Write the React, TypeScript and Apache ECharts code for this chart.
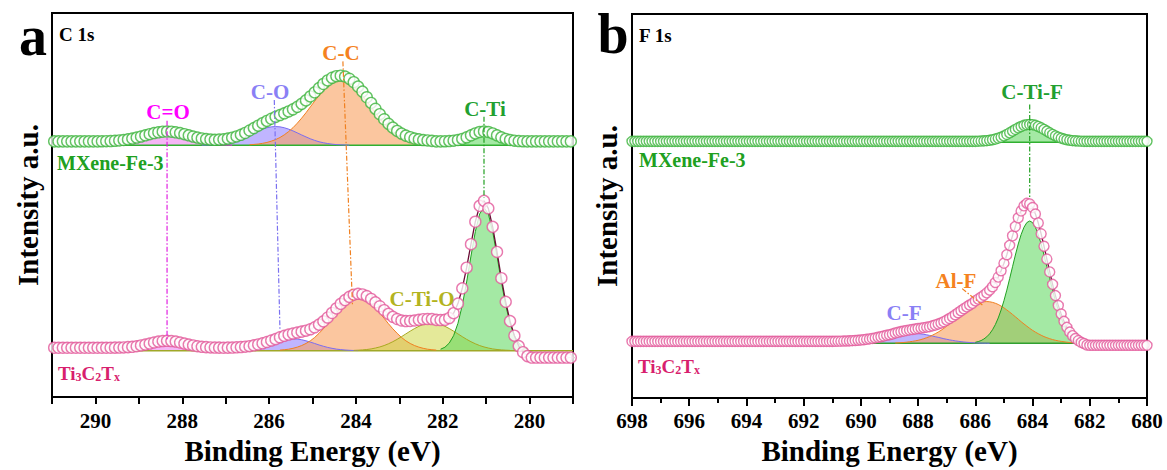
import React, { useEffect, useRef } from 'react';
import * as echarts from 'echarts';

// ---------------- DATA ----------------
// Energy grids (eV), measurement step
const E_STEP = 0.1;
const A_E_START = 290.95; // C 1s spectra start (descending)
const B_E_START = 698.0; // F 1s spectra start (descending)

// Axis ranges and tick labels
const A_MIN = 279, A_MAX = 291;
const B_MIN = 680, B_MAX = 698;

// Vertical offsets of the stacked spectra (a.u.)
const A_UP_BASE = 255, A_LOW_BASE = 47;
const B_UP_BASE = 257, B_LOW_BASE = 55;

// C 1s, MXene-Fe-3 raw data (intensity above its baseline, a.u.)
const A_UP_ENV = [
  4, 4, 4, 4, 4, 4, 4, 4, 4, 4, 4,
  4.1, 4.2, 4.3, 4.6, 4.9, 5.4, 6.0, 6.8, 7.8, 8.9,
  10.1, 11.3, 12.4, 13.2, 13.8, 14, 13.8, 13.2, 12.4, 11.3,
  10.1, 8.9, 7.8, 7.0, 6.3, 5.9, 5.6, 5.8, 6.1, 6.8,
  7.7, 9.0, 10.6, 12.5, 15.0, 17.5, 19.9, 22.4, 24.7, 26.9,
  28.8, 30.6, 32.4, 34.3, 36.4, 39.0, 42.0, 45.5, 49.5, 53.7,
  58.0, 62.1, 65.7, 68.4, 70.0, 70.5, 69.6, 67.4, 63.9, 59.5,
  54.4, 48.7, 42.9, 37.0, 31.5, 26.4, 21.8, 17.9, 14.6, 11.9,
  9.8, 8.2, 6.9, 6.0, 5.3, 4.9, 4.5, 4, 4, 4.1,
  4.3, 4.7, 5.4, 6.5, 8.1, 10.1, 12.0, 13.5, 14, 13.5,
  12.0, 10.1, 8.1, 6.5, 5.4, 4.7, 4.3, 4.1,
  4, 4, 4, 4, 4, 4, 4, 4, 4, 4, 4, 4,
];
// C 1s, MXene-Fe-3 fitted components
const A_UP_CDO_START = 289.85;
const A_UP_CDO = [0.1, 0.2, 0.3, 0.6, 0.9, 1.4, 2.0, 2.8, 3.8, 4.9, 6.1, 7.3, 8.4, 9.2, 9.8, 10, 9.8, 9.2, 8.4, 7.3, 6.1, 4.9, 3.8, 2.8, 2.0, 1.4, 0.9, 0.6, 0.3, 0.2, 0.1];
const A_UP_CO_START = 287.55;
const A_UP_CO = [0.2, 0.3, 0.5, 0.7, 1.2, 1.8, 2.6, 3.6, 5.0, 6.6, 8.5, 10.5, 12.6, 14.6, 16.4, 17.8, 18.7, 19, 18.7, 17.8, 16.4, 14.6, 12.6, 10.5, 8.5, 6.6, 5.0, 3.6, 2.6, 1.8, 1.2, 0.7, 0.5, 0.3, 0.2];
const A_UP_CC_START = 286.45;
const A_UP_CC = [0.5, 0.9, 1.3, 2.0, 2.9, 4.2, 5.8, 7.9, 10.6, 13.9, 17.8, 22.4, 27.5, 33.0, 38.9, 44.7, 50.4, 55.5, 59.9, 63.2, 65.3, 66, 65.3, 63.2, 59.9, 55.5, 50.4, 44.7, 38.9, 33.0, 27.5, 22.4, 17.8, 13.9, 10.6, 7.9, 5.8, 4.2, 2.9, 2.0, 1.3, 0.9, 0.5];
const A_UP_CTI_START = 281.95;
const A_UP_CTI = [0.1, 0.3, 0.7, 1.4, 2.5, 4.1, 6.1, 8.0, 9.5, 10, 9.5, 8.0, 6.1, 4.1, 2.5, 1.4, 0.7, 0.3, 0.1];

// C 1s, Ti3C2Tx raw data
const A_LOW_ENV = [
  3, 3, 3, 3, 3, 3, 3, 3, 3, 3, 3, 3, 3, 3,
  3.1, 3.2, 3.3, 3.6, 3.9, 4.5, 5.3, 6.2, 7.2, 8.3,
  9.2, 9.8, 10, 9.8, 9.2, 8.3, 7.2, 6.2, 5.3, 4.5,
  3.9, 3.6, 3.3, 3.2, 3.1, 3,
  3.1, 3.2, 3.4, 3.7,
  4.1, 4.6, 5.4, 6.3, 7.5, 8.8, 10.3, 11.7, 13.6, 15.1,
  16.3, 17.4, 18.4, 19.3, 20.3, 21.7, 23.7, 26.4, 29.7, 33.6,
  38.2, 42.8, 47.4, 51.3, 54.5, 56.7, 57.6, 57.0, 55.3, 52.4,
  49.0, 45.0, 41.0, 37.3, 34.3, 32.1, 30.6, 30.0, 30.1, 30.6,
  31.3, 31.9, 32.1, 32.0, 31.2, 31.0, 31.2, 33.1, 38.0, 47.7,
  63.2, 84.1, 107.9, 130.6, 146.7, 151.8, 144.2, 125.4, 100.0, 73.4,
  49.5, 30.0, 15.2, 4.7, -1.5, -5.5,
  -7, -7, -7, -7, -7, -7, -7, -7, -7, -7, -7,
];
// C 1s, Ti3C2Tx fitted components
const A_LOW_CDO_START = 289.55;
const A_LOW_CDO = [0.1, 0.2, 0.3, 0.6, 0.9, 1.5, 2.3, 3.2, 4.2, 5.3, 6.2, 6.8, 7, 6.8, 6.2, 5.3, 4.2, 3.2, 2.3, 1.5, 0.9, 0.6, 0.3, 0.2, 0.1];
const A_LOW_CO_START = 286.95;
const A_LOW_CO = [0.1, 0.2, 0.4, 0.7, 1.1, 1.6, 2.4, 3.3, 4.5, 5.8, 7.3, 8.7, 10.0, 11.1, 11.8, 12, 11.8, 11.1, 10.0, 8.7, 7.3, 5.8, 4.5, 3.3, 2.4, 1.6, 1.1, 0.7, 0.4, 0.2, 0.1];
const A_LOW_CC_START = 285.75;
const A_LOW_CC = [0.6, 1.0, 1.5, 2.4, 3.6, 5.2, 7.3, 10.0, 13.4, 17.6, 22.2, 27.3, 32.8, 38.2, 43.3, 47.6, 51.1, 53.2, 54, 53.2, 51.1, 47.6, 43.3, 38.2, 32.8, 27.3, 22.2, 17.6, 13.4, 10.0, 7.3, 5.2, 3.6, 2.4, 1.5, 1.0, 0.6];
const A_LOW_CTIO_START = 284.05;
const A_LOW_CTIO = [0.3, 0.5, 0.8, 1.2, 1.8, 2.7, 3.8, 5.2, 7.0, 9.1, 11.5, 14.2, 17.0, 19.8, 22.4, 24.7, 26.5, 27.6, 28, 27.6, 26.5, 24.7, 22.4, 19.8, 17.0, 14.2, 11.5, 9.1, 7.0, 5.2, 3.8, 2.7, 1.8, 1.2, 0.8, 0.5, 0.3];
const A_LOW_CTI_START = 282.05;
const A_LOW_CTI = [1.5, 3.5, 7.7, 15.2, 27.7, 46.0, 69.6, 95.8, 120.6, 138.5, 145, 138.5, 120.6, 95.8, 69.6, 46.0, 27.7, 15.2, 7.7, 3.5, 1.5];

// F 1s, MXene-Fe-3 raw data
const B_UP_ENV = [
  1, 1, 1, 1, 1, 1, 1, 1, 1, 1, 1, 1, 1, 1, 1, 1, 1, 1, 1, 1,
  1, 1, 1, 1, 1, 1, 1, 1, 1, 1, 1, 1, 1, 1, 1, 1, 1, 1, 1, 1,
  1, 1, 1, 1, 1, 1, 1, 1, 1, 1, 1, 1, 1, 1, 1, 1, 1, 1, 1, 1,
  1, 1, 1, 1, 1, 1, 1, 1, 1, 1, 1, 1, 1, 1, 1, 1, 1, 1, 1, 1,
  1, 1, 1, 1, 1, 1, 1, 1, 1, 1, 1, 1, 1, 1, 1, 1, 1, 1, 1, 1,
  1, 1, 1, 1, 1, 1, 1, 1, 1, 1, 1, 1, 1, 1, 1, 1, 1, 1, 1, 1,
  1,
  1.2, 1.3, 1.5, 1.7, 2.1, 2.6, 3.3, 4.2, 5.2, 6.5,
  8.0, 9.6, 11.3, 13.0, 14.6, 16.0, 17.1, 17.8, 18, 17.8,
  17.1, 16.0, 14.6, 13.0, 11.3, 9.6, 8.0, 6.5, 5.2, 4.2,
  3.3, 2.6, 2.1, 1.7, 1.5, 1.3, 1.2,
  1, 1, 1, 1, 1, 1, 1, 1, 1, 1, 1, 1, 1, 1, 1, 1, 1, 1, 1, 1, 1, 1, 1,
];
const B_UP_CTIF_START = 685.9;
const B_UP_CTIF = [0.2, 0.3, 0.5, 0.7, 1.1, 1.6, 2.3, 3.2, 4.2, 5.5, 7.0, 8.6, 10.3, 12.0, 13.6, 15.0, 16.1, 16.8, 17, 16.8, 16.1, 15.0, 13.6, 12.0, 10.3, 8.6, 7.0, 5.5, 4.2, 3.2, 2.3, 1.6, 1.1, 0.7, 0.5, 0.3, 0.2];

// F 1s, Ti3C2Tx raw data
const B_LOW_ENV = [
  2, 2, 2, 2, 2, 2, 2, 2, 2, 2, 2, 2, 2, 2, 2, 2, 2, 2, 2, 2,
  2, 2, 2, 2, 2, 2, 2, 2, 2, 2, 2, 2, 2, 2, 2, 2, 2, 2, 2, 2,
  2, 2, 2, 2, 2, 2, 2, 2, 2, 2, 2, 2, 2, 2, 2, 2, 2, 2, 2, 2,
  2, 2, 2, 2, 2, 2, 2, 2, 2, 2, 2,
  2.1, 2.2, 2.2, 2.3, 2.4, 2.5, 2.7, 2.9, 3.1, 3.4,
  3.7, 4.1, 4.5, 5.0, 5.5, 6.1, 6.7, 7.4, 8.1, 8.7,
  9.4, 10.4, 11.1, 11.8, 12.4, 13.0, 13.5, 14.0, 14.4, 14.9,
  15.3, 15.8, 16.3, 16.8, 17.6, 18.4, 19.4, 20.5, 21.8, 23.4,
  25.0, 26.8, 28.8, 30.8, 32.8, 34.8, 36.7, 38.6, 40.2, 42.7,
  44.5, 46.3, 48.4, 50.8, 53.5, 56.9, 61.2, 66.6, 73.0, 80.6,
  89.1, 98.5, 108.1, 117.5, 126.2, 133.1, 138.2, 140.7, 140.1, 136.5,
  130.0, 121.0, 110.1, 97.6, 84.7, 71.8, 59.3, 48.0, 38.0, 29.5,
  22.1, 16.1, 11.3, 7.7, 4.9, 2.8, 1.0, -0.1, -1.6,
  -2, -2, -2, -2, -2, -2, -2, -2, -2, -2, -2, -2, -2, -2, -2, -2, -2, -2, -2, -2, -2,
];
const B_LOW_CF_START = 690.9;
const B_LOW_CF = [0.1, 0.2, 0.2, 0.3, 0.4, 0.5, 0.7, 0.9, 1.1, 1.4, 1.7, 2.1, 2.5, 3.0, 3.5, 4.1, 4.7, 5.4, 6.1, 6.7, 7.4, 8.0, 8.6, 9.1, 9.5, 9.8, 9.9, 10, 9.9, 9.8, 9.5, 9.1, 8.6, 8.0, 7.4, 6.7, 6.1, 5.4, 4.7, 4.1, 3.5, 3.0, 2.5, 2.1, 1.7, 1.4, 1.1, 0.9, 0.7, 0.5, 0.4, 0.3, 0.2, 0.2, 0.1];
const B_LOW_ALF_START = 688.8;
const B_LOW_ALF = [0.4, 0.5, 0.7, 0.9, 1.2, 1.6, 2.0, 2.5, 3.1, 3.8, 4.7, 5.7, 6.8, 8.2, 9.7, 11.3, 13.1, 15.1, 17.3, 19.5, 21.8, 24.3, 26.7, 29.1, 31.4, 33.6, 35.7, 37.5, 39.1, 40.3, 41.2, 41.8, 42, 41.8, 41.2, 40.3, 39.1, 37.5, 35.7, 33.6, 31.4, 29.1, 26.7, 24.3, 21.8, 19.5, 17.3, 15.1, 13.1, 11.3, 9.7, 8.2, 6.8, 5.7, 4.7, 3.8, 3.1, 2.5, 2.0, 1.6, 1.2, 0.9, 0.7, 0.5, 0.4];
const B_LOW_CTIF_START = 686.0;
const B_LOW_CTIF = [1.1, 1.8, 2.8, 4.4, 6.6, 9.6, 13.7, 18.9, 25.5, 33.5, 42.9, 53.5, 65.1, 77.0, 88.8, 99.9, 109.3, 116.7, 121.4, 123, 121.4, 116.7, 109.3, 99.9, 88.8, 77.0, 65.1, 53.5, 42.9, 33.5, 25.5, 18.9, 13.7, 9.6, 6.6, 4.4, 2.8, 1.8, 1.1];

// Peak assignment positions (eV) used for dash-dot guide lines
const A_PEAK_CDO = [288.35, 288.35];
const A_PEAK_CO = [285.88, 285.75];
const A_PEAK_CC = [284.3, 284.08];
const A_PEAK_CTI = [281.05, 281.05];
const B_PEAK_CTIF = [684.1, 684.1];
const B_PEAK_ALF = [686.46, 685.73];

// ---------------- STYLES ----------------
const FONT = 'Liberation Serif';
const C = {
  cdo: { line: '#e030e0', fill: 'rgba(232,90,232,0.45)', text: '#ff00ff' },
  co: { line: '#7a6cf0', fill: 'rgba(140,120,255,0.55)', text: '#8a80f5' },
  cc: { line: '#f08020', fill: 'rgba(248,160,95,0.6)', text: '#f58220' },
  ctio: { line: '#a8a820', fill: 'rgba(205,215,70,0.55)', text: '#b3b320' },
  cti: { line: '#20a020', fill: 'rgba(90,215,90,0.55)', text: '#22a030' },
  green: '#3cb43c',
  pink: '#e2579a',
  labelGreen: '#20a020',
  labelPink: '#d81f6e',
};

const pts = (start: number, vals: number[], base: number) =>
  vals.map((v, i) => [Math.round((start - i * E_STEP) * 100) / 100, v + base]);

function comp(ax: number, start: number, vals: number[], base: number, st: any) {
  return {
    type: 'line', xAxisIndex: ax, yAxisIndex: ax, data: pts(start, vals, base),
    symbol: 'none', silent: true, z: 2,
    lineStyle: { color: st.line, width: 1 },
    areaStyle: { color: st.fill, origin: base, opacity: 1 },
  };
}
function env(ax: number, start: number, vals: number[], base: number, color: string, size: number) {
  return {
    type: 'scatter', xAxisIndex: ax, yAxisIndex: ax, data: pts(start, vals, base),
    symbol: 'circle', symbolSize: size, silent: true, z: 4,
    itemStyle: { color: '#fff', borderColor: color, borderWidth: 1.4 },
  };
}
function fitLine(ax: number, start: number, vals: number[], base: number, color: string) {
  return {
    type: 'line', xAxisIndex: ax, yAxisIndex: ax, data: pts(start, vals, base),
    symbol: 'none', silent: true, z: 3, lineStyle: { color, width: 1.3 },
  };
}
function baseLine(ax: number, x0: number, x1: number, base: number, color: string) {
  return {
    type: 'line', xAxisIndex: ax, yAxisIndex: ax, data: [[x0, base], [x1, base]],
    symbol: 'none', silent: true, z: 2, lineStyle: { color, width: 1.5 },
  };
}
function guide(ax: number, xs: number[], y0: number, y1: number, color: string) {
  return {
    type: 'line', xAxisIndex: ax, yAxisIndex: ax, data: [[xs[0], y0], [xs[1], y1]],
    symbol: 'none', silent: true, z: 5,
    lineStyle: { color, width: 1.2, type: [5, 2, 1.5, 2] },
  };
}
function txt(x: number, y: number, text: string, fill: string, size: number, align = 'center', rich?: any) {
  const style: any = {
    text, fill, fontFamily: FONT, fontSize: size, fontWeight: 'bold',
    align, verticalAlign: 'middle', textAlign: align, textVerticalAlign: 'middle',
  };
  if (rich) style.rich = rich;
  return { type: 'text', x, y, z: 10, silent: true, style };
}

const tiRich = {
  b: { fontSize: 19, fontWeight: 'bold', fontFamily: FONT, fill: C.labelPink, color: C.labelPink },
  s: { fontSize: 12, fontWeight: 'bold', fontFamily: FONT, fill: C.labelPink, color: C.labelPink, padding: [7, 0, 0, 0] },
};

function xAxis(grid: number, min: number, max: number, interval: number, minor: boolean, gap: number, margin: number) {
  return {
    gridIndex: grid, type: 'value', min, max, interval, inverse: true,
    name: 'Binding Energy (eV)', nameLocation: 'middle', nameGap: gap,
    nameTextStyle: { fontFamily: FONT, fontWeight: 'bold', fontSize: 29, color: '#000' },
    axisLine: { show: true, lineStyle: { color: '#000', width: 2 } },
    axisTick: { show: true, length: minor ? 8 : 7, lineStyle: { color: '#000', width: 2 } },
    minorTick: { show: minor, splitNumber: 2, length: 5, lineStyle: { color: '#000', width: 2 } },
    axisLabel: {
      margin, fontFamily: FONT, fontWeight: 'bold', fontSize: 21, color: '#000',
      formatter: (v: number) => (Math.round(v) % 2 === 0 ? String(Math.round(v)) : ''),
    },
    splitLine: { show: false },
    minorSplitLine: { show: false },
  };
}
function yAxis(grid: number, max: number, gap: number) {
  return {
    gridIndex: grid, type: 'value', min: 0, max,
    name: 'Intensity a.u.', nameLocation: 'middle', nameGap: gap,
    nameTextStyle: { fontFamily: FONT, fontWeight: 'bold', fontSize: 29, color: '#000' },
    axisLine: { show: false }, axisTick: { show: false }, axisLabel: { show: false },
    splitLine: { show: false },
  };
}

function buildOption() {
  const series: any[] = [
    // panel a, upper
    baseLine(0, A_MAX, A_MIN, A_UP_BASE, '#30b030'),
    comp(0, A_UP_CDO_START, A_UP_CDO, A_UP_BASE, C.cdo),
    comp(0, A_UP_CO_START, A_UP_CO, A_UP_BASE, C.co),
    comp(0, A_UP_CC_START, A_UP_CC, A_UP_BASE, C.cc),
    comp(0, A_UP_CTI_START, A_UP_CTI, A_UP_BASE, C.cti),
    env(0, A_E_START, A_UP_ENV, A_UP_BASE, C.green, 11),
    // panel a, lower
    baseLine(0, A_MAX, A_MIN, A_LOW_BASE, '#a0a828'),
    comp(0, A_LOW_CDO_START, A_LOW_CDO, A_LOW_BASE, C.cdo),
    comp(0, A_LOW_CO_START, A_LOW_CO, A_LOW_BASE, C.co),
    comp(0, A_LOW_CC_START, A_LOW_CC, A_LOW_BASE, C.cc),
    comp(0, A_LOW_CTIO_START, A_LOW_CTIO, A_LOW_BASE, C.ctio),
    comp(0, A_LOW_CTI_START, A_LOW_CTI, A_LOW_BASE, C.cti),
    fitLine(0, A_E_START, A_LOW_ENV, A_LOW_BASE, '#6a0c35'),
    env(0, A_E_START, A_LOW_ENV, A_LOW_BASE, C.pink, 11),
    // guides a
    guide(0, A_PEAK_CDO, A_UP_BASE + 25, A_LOW_BASE + 10, '#e020e0'),
    guide(0, A_PEAK_CO, A_UP_BASE + 46, A_LOW_BASE + 22, '#7a70f0'),
    guide(0, A_PEAK_CC, A_UP_BASE + 85, A_LOW_BASE + 47, '#f08020'),
    guide(0, A_PEAK_CTI, A_UP_BASE + 29, A_LOW_BASE + 155, '#20a020'),
    // panel b, upper
    baseLine(1, B_MAX, B_MIN, B_UP_BASE, '#30b030'),
    comp(1, B_UP_CTIF_START, B_UP_CTIF, B_UP_BASE, C.cti),
    env(1, B_E_START, B_UP_ENV, B_UP_BASE, C.green, 10),
    // panel b, lower
    baseLine(1, B_MAX, B_MIN, B_LOW_BASE, '#30a030'),
    comp(1, B_LOW_CF_START, B_LOW_CF, B_LOW_BASE, C.co),
    comp(1, B_LOW_ALF_START, B_LOW_ALF, B_LOW_BASE, C.cc),
    comp(1, B_LOW_CTIF_START, B_LOW_CTIF, B_LOW_BASE, C.cti),
    fitLine(1, B_E_START, B_LOW_ENV, B_LOW_BASE, '#6a0c35'),
    env(1, B_E_START, B_LOW_ENV, B_LOW_BASE, C.pink, 10),
    // guides b
    guide(1, B_PEAK_CTIF, B_UP_BASE + 38, B_LOW_BASE + 145, '#20a020'),
    guide(1, B_PEAK_ALF, B_LOW_BASE + 55, B_LOW_BASE + 38, '#f08020'),
  ];

  const graphic: any[] = [
    txt(33, 36, 'a', '#000', 56),
    txt(613, 34, 'b', '#000', 56),
    txt(59, 34, 'C 1s', '#000', 19, 'left'),
    txt(639, 35, 'F 1s', '#000', 19, 'left'),
    txt(168, 112, 'C=O', C.cdo.text, 21),
    txt(270, 92, 'C-O', C.co.text, 21),
    txt(341, 53, 'C-C', C.cc.text, 21),
    txt(485, 109, 'C-Ti', C.cti.text, 21),
    txt(422, 299, 'C-Ti-O', C.ctio.text, 21),
    txt(1032, 92, 'C-Ti-F', C.cti.text, 21),
    txt(956, 281, 'Al-F', C.cc.text, 21),
    txt(904, 313, 'C-F', C.co.text, 21),
    txt(57, 163, 'MXene-Fe-3', C.labelGreen, 20, 'left'),
    txt(639, 160, 'MXene-Fe-3', C.labelGreen, 20, 'left'),
    txt(58, 373, '{b|Ti}{s|3}{b|C}{s|2}{b|T}{s|x}', C.labelPink, 19, 'left', tiRich),
    txt(638, 366, '{b|Ti}{s|3}{b|C}{s|2}{b|T}{s|x}', C.labelPink, 19, 'left', tiRich),
  ];

  return {
    animation: false,
    backgroundColor: '#fff',
    textStyle: { fontFamily: FONT },
    grid: [
      { left: 52, top: 13, width: 521, height: 389, show: true, borderColor: '#000', borderWidth: 2 },
      { left: 632, top: 14, width: 515, height: 386, show: true, borderColor: '#000', borderWidth: 2 },
    ],
    xAxis: [
      xAxis(0, A_MIN, A_MAX, 1, false, 32, 13),
      xAxis(1, B_MIN, B_MAX, 2, true, 31, 12),
    ],
    yAxis: [yAxis(0, 389, 10), yAxis(1, 386, 11)],
    series,
    graphic,
  };
}

export default function App() {
  const ref = useRef<HTMLDivElement>(null);
  useEffect(() => {
    document.body.style.margin = '0';
    const chart = echarts.init(ref.current!, undefined, { renderer: 'svg' });
    chart.setOption(buildOption() as any);
    return () => chart.dispose();
  }, []);
  return <div ref={ref} style={{ width: 1167, height: 470 }} />;
}
